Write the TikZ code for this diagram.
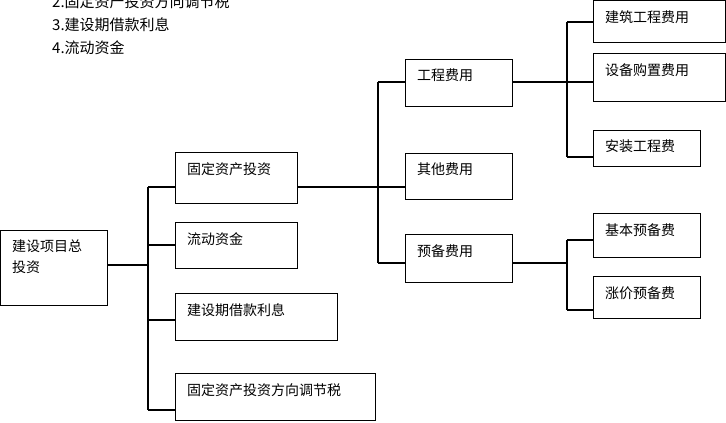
\documentclass[tikz,border=0pt]{standalone}
\usepackage{fontspec}
\setmainfont{Liberation Serif}
\newfontfamily\cjk{Noto Sans CJK SC}
\usetikzlibrary{positioning,calc}
\tikzstyle{box} = [draw=black, line width=1.3pt, inner sep=0pt, font=\cjk\fontsize{14}{18}\selectfont]
\tikzstyle{link} = [line width=1.3pt]
\newcommand{\cbox}[6]{% name, x1, y1, x2, y2, text
  \node[box, minimum width={#4pt-#2pt}, minimum height={#5pt-#3pt}, anchor=north west] (#1) at (#2pt,-#3pt) {};
  \node[anchor=north west, font=\cjk\fontsize{14}{21}\selectfont, align=left, inner sep=0pt] at (#2pt+12pt,-#3pt-10pt) {#6};}

\begin{document}
\begin{tikzpicture}
\useasboundingbox (0,0) rectangle (726pt,-423pt);
% notes at the top
\node[anchor=west, font=\cjk\fontsize{15}{23}\selectfont, align=left, inner sep=0pt] (notes) at (52pt,-25pt) {2.固定资产投资方向调节税\\3.建设期借款利息\\4.流动资金};
% boxes
\cbox{total}{0}{230}{107}{305}{建设项目总\\投资}
\cbox{fixed}{175}{152}{297}{203}{固定资产投资}
\cbox{flow}{175}{222}{297}{268}{流动资金}
\cbox{loan}{175}{293}{337}{340}{建设期借款利息}
\cbox{tax}{175}{373}{375}{420}{固定资产投资方向调节税}
\cbox{eng}{405}{59}{512}{106}{工程费用}
\cbox{other}{405}{153}{512}{199}{其他费用}
\cbox{reserve}{405}{234}{512}{282}{预备费用}
\cbox{build}{593}{0}{725}{42}{建筑工程费用}
\cbox{equip}{593}{53}{725}{101}{设备购置费用}
\cbox{install}{593}{130}{700}{166}{安装工程费}
\cbox{basic}{593}{213}{700}{257}{基本预备费}
\cbox{price}{593}{276}{700}{318}{涨价预备费}
% connectors
\coordinate (b1) at (148pt,-265pt);
\coordinate (b2) at (378pt,-187pt);
\coordinate (b3) at (567pt,-82pt);
\coordinate (b4) at (567pt,-263pt);
\draw[link] (total.east |- b1) -- (b1);
\draw[link] (148pt,-187pt) -- (148pt,-410pt);
\draw[link] (148pt,-187pt) -- (fixed.west |- 0,-187pt);
\draw[link] (148pt,-245pt) -- (flow.west |- 0,-245pt);
\draw[link] (148pt,-320pt) -- (loan.west |- 0,-320pt);
\draw[link] (148pt,-410pt) -- (tax.west |- 0,-410pt);
\draw[link] (fixed.east |- b2) -- (other.west |- b2);
\draw[link] (378pt,-82pt) -- (378pt,-263pt);
\draw[link] (378pt,-82pt) -- (eng.west |- 0,-82pt);
\draw[link] (378pt,-263pt) -- (reserve.west |- 0,-263pt);
\draw[link] (eng.east |- b3) -- (build.west |- b3) ;
\draw[link] (567pt,-22pt) -- (567pt,-157pt);
\draw[link] (567pt,-22pt) -- (build.west |- 0,-22pt);
\draw[link] (567pt,-157pt) -- (install.west |- 0,-157pt);
\draw[link] (reserve.east |- b4) -- (b4);
\draw[link] (567pt,-240pt) -- (567pt,-310pt);
\draw[link] (567pt,-240pt) -- (basic.west |- 0,-240pt);
\draw[link] (567pt,-310pt) -- (price.west |- 0,-310pt);
\end{tikzpicture}
\end{document}
